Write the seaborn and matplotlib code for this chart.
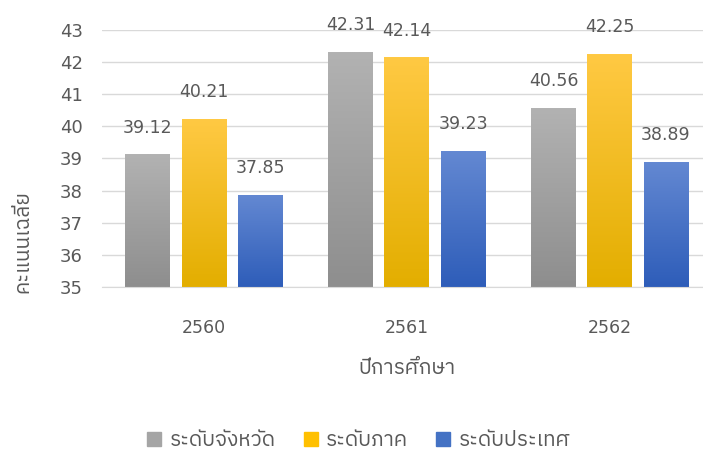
import numpy as np
import matplotlib
matplotlib.use('Agg')
import matplotlib.pyplot as plt
import seaborn as sns
import pandas as pd
from matplotlib.lines import Line2D

# data
years = ['2560', '2561', '2562']
levels = ['ระดับจังหวัด', 'ระดับภาค', 'ระดับประเทศ']
province = [39.12, 42.31, 40.56]
region = [40.21, 42.14, 42.25]
country = [37.85, 39.23, 38.89]

df = pd.DataFrame({
    'year': years * 3,
    'level': [levels[0]] * 3 + [levels[1]] * 3 + [levels[2]] * 3,
    'score': province + region + country,
})

sns.set_style('white')
plt.rcParams['font.family'] = ['DejaVu Sans', 'IBM Plex Sans Thai']

fig = plt.figure(figsize=(7.03, 4.54), dpi=100)
ax = fig.add_axes([0.1458, 0.368, 0.866, 0.566])

colors = ['#a5a5a5', '#ffc000', '#4472c4']
sns.barplot(data=df, x='year', y='score', hue='level', palette=colors,
            width=0.83, gap=0.2, legend=False, ax=ax)

ax.set_ylim(35, 43)
ax.set_yticks(range(35, 44))
ax.grid(axis='y', color='#d9d9d9', lw=1)
ax.set_axisbelow(True)
for s in ['left', 'right', 'top']:
    ax.spines[s].set_visible(False)
ax.spines['bottom'].set_color('#d9d9d9')
ax.tick_params(axis='both', length=0, colors='#595959')
ax.tick_params(axis='y', labelsize=13, pad=14)
ax.tick_params(axis='x', labelsize=12.5, pad=23)

ax.set_xlabel('ปีการศึกษา', fontsize=15, color='#595959')
ax.set_ylabel('คะแนนเฉลี่ย', fontsize=15, color='#595959')
ax.xaxis.set_label_coords(0.5, -0.315)
ax.xaxis.label.set_va('center')
ax.yaxis.set_label_coords(-0.132, 0.175)
ax.yaxis.label.set_va('center')
ax.yaxis.label.set_ha('center')

# gradient fill, lighter at top
grads = {
    0: ('#b2b2b2', '#8e8e8e'),
    1: ('#ffc943', '#e3ae00'),
    2: ('#6388d2', '#2e5db9'),
}
for i, p in enumerate(list(ax.patches)):
    k = i // 3
    x0, w = p.get_x(), p.get_width()
    top = p.get_height()
    c_top, c_bot = [np.array(matplotlib.colors.to_rgb(c)) for c in grads[k]]
    t = np.linspace(0, 1, 100)[:, None]
    img = (c_top * (1 - t) + c_bot * t)[:, None, :]
    p.set_facecolor('none')
    p.set_edgecolor('none')
    ax.imshow(img, extent=[x0, x0 + w, 35, top], aspect='auto', zorder=2)
    ax.annotate(f'{top:.2f}', (x0 + w / 2, top), xytext=(0, 19.5),
                textcoords='offset points', ha='center', va='center',
                fontsize=12.5, color='#595959')
ax.set_xlim(-0.5, 2.5)
ax.set_ylim(35, 43)

handles = [Line2D([], [], marker='s', ls='none', markersize=10, color=c) for c in colors]
fig.legend(handles, levels, loc='center', bbox_to_anchor=(0.51, 0.031), ncol=3,
           frameon=False, fontsize=15, labelcolor='#595959', handlelength=0.7,
           handletextpad=0.4, columnspacing=1.3)

fig.savefig('out.png', dpi=100)
